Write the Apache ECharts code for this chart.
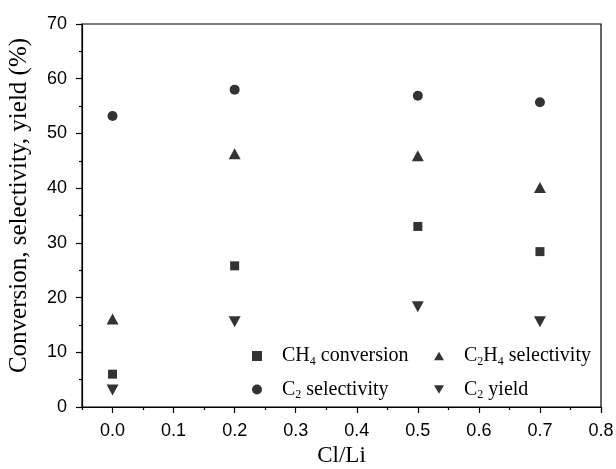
<!DOCTYPE html>
<html><head><meta charset="utf-8">
<script src="https://cdn.jsdelivr.net/npm/echarts@6/dist/echarts.min.js"></script>
<style>html,body{margin:0;padding:0;background:#fff}#c{width:616px;height:469px}</style>
</head><body><div id="c"></div>
<script>
var clLi = [0.0, 0.2, 0.5, 0.7];
var ch4Conversion = [6.0, 25.8, 33.0, 28.4];
var c2h4Selectivity = [16.1, 46.3, 45.9, 40.1];
var c2Selectivity = [53.2, 58.0, 56.9, 55.7];
var c2Yield = [3.1, 15.6, 18.3, 15.6];
var xMajorTicks = [0.0, 0.1, 0.2, 0.3, 0.4, 0.5, 0.6, 0.7, 0.8];
var xMinorTicks = [-0.05, 0.05, 0.15, 0.25, 0.35, 0.45, 0.55, 0.65, 0.75];
var names = ['CH4 conversion', 'C2H4 selectivity', 'C2 selectivity', 'C2 yield'];
var legendLabels = {
  'CH4 conversion': 'CH{sub|4} conversion',
  'C2H4 selectivity': 'C{sub|2}H{sub|4} selectivity',
  'C2 selectivity': 'C{sub|2} selectivity',
  'C2 yield': 'C{sub|2} yield'
};
var downTri = 'path://M0,0 L10,0 L5,8.7 Z';
var upTri = 'path://M5,0 L10,8.7 L0,8.7 Z';

function pts(vals){ return clLi.map(function(x,i){ return [x, vals[i]]; }); }
var serif = 'Liberation Serif';
var sans = 'Liberation Sans';
var legendText = {
  fontFamily: serif, fontSize: 20, color: '#000', padding: [0, 0, 0, 15],
  rich: { sub: { fontFamily: serif, fontSize: 12, color: '#000', verticalAlign: 'bottom', padding: [11,0,0,0] } }
};
var chart = echarts.init(document.getElementById('c'));
chart.setOption({
  animation: false,
  backgroundColor: '#fff',
  grid: { left: 82, right: 15, top: 24, bottom: 62, show: true, borderColor: '#000', borderWidth: 1.2, containLabel: false, outerBoundsMode: 'none' },
  legend: [
    { data: [names[0], names[2]], orient: 'vertical', left: 247, top: 341, itemGap: 12, itemWidth: 10, itemHeight: 10,
      formatter: function(n){ return legendLabels[n]; }, textStyle: legendText },
    { data: [names[1], names[3]], orient: 'vertical', left: 429, top: 341, itemGap: 12, itemWidth: 10, itemHeight: 10,
      formatter: function(n){ return legendLabels[n]; }, textStyle: legendText }
  ],
  xAxis: [
    { type: 'value', min: -0.05, max: 0.8, position: 'bottom',
      name: 'Cl/Li', nameLocation: 'middle', nameGap: 34,
      nameTextStyle: { fontFamily: serif, fontSize: 23, color: '#000' },
      axisLine: { show: true, onZero: false, lineStyle: { color: '#000', width: 1.2 } },
      axisTick: { show: true, inside: false, length: 6, customValues: xMajorTicks, lineStyle: { color: '#000', width: 1.2 } },
      axisLabel: { customValues: xMajorTicks, formatter: function(v){ return v.toFixed(1); }, fontFamily: sans, fontSize: 18, color: '#000', margin: 15 },
      splitLine: { show: false } },
    { type: 'value', min: -0.05, max: 0.8, position: 'bottom',
      axisLine: { show: false, onZero: false },
      axisTick: { show: true, inside: false, length: 3, customValues: xMinorTicks, lineStyle: { color: '#000', width: 1.2 } },
      axisLabel: { show: false }, splitLine: { show: false } }
  ],
  yAxis: {
    type: 'value', min: 0, max: 70, interval: 10,
    name: 'Conversion, selectivity, yield (%)', nameLocation: 'middle', nameGap: 50,
    nameTextStyle: { fontFamily: serif, fontSize: 25, color: '#000', padding: [0, 0, 0, 20] },
    axisLine: { show: true, onZero: false, lineStyle: { color: '#000', width: 1.2 } },
    axisTick: { show: true, inside: false, length: 6, lineStyle: { color: '#000', width: 1.2 } },
    minorTick: { show: true, splitNumber: 2, length: 3, lineStyle: { color: '#000', width: 1.2 } },
    axisLabel: { fontFamily: sans, fontSize: 18, color: '#000', margin: 15 },
    splitLine: { show: false }, minorSplitLine: { show: false }
  },
  series: [
    { name: names[0], type: 'scatter', data: pts(ch4Conversion), symbol: 'rect', symbolSize: 9, itemStyle: { color: '#000' } },
    { name: names[1], type: 'scatter', data: pts(c2h4Selectivity), symbol: upTri, symbolSize: [12, 11], itemStyle: { color: '#000' } },
    { name: names[2], type: 'scatter', data: pts(c2Selectivity), symbol: 'circle', symbolSize: 10, itemStyle: { color: '#000' } },
    { name: names[3], type: 'scatter', data: pts(c2Yield), symbol: downTri, symbolSize: [12, 11], itemStyle: { color: '#000' } }
  ]
});
</script></body></html>
